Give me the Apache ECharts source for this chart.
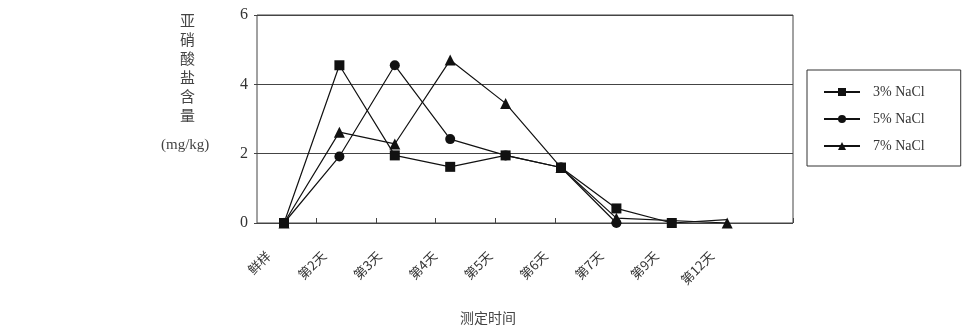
<!DOCTYPE html>
<html>
<head>
<meta charset="utf-8">
<script src="https://cdn.jsdelivr.net/npm/echarts@6/dist/echarts.min.js"></script>
<style>
html,body{margin:0;padding:0;background:#fff;}
#c{width:963px;height:329px;}
</style>
</head>
<body>
<div id="c"></div>
<script>
const categories = ['鲜样', '第2天', '第3天', '第4天', '第5天', '第6天', '第7天', '第9天', '第12天'];
const seriesNames = ['3% NaCl', '5% NaCl', '7% NaCl'];
const nacl3 = [0, 4.55, 1.95, 1.62, 1.95, 1.6, 0.42, 0, 0.1];
const nacl5 = [0, 1.92, 4.55, 2.42, 1.95, 1.6, 0, null, null];
const nacl7 = [0, 2.62, 2.28, 4.7, 3.45, 1.6, 0.14, null, 0];
const yTicks = [0, 2, 4, 6];
const yTitle = ['亚', '硝', '酸', '盐', '含', '量'];
const yUnit = '(mg/kg)';
const xTitle = '测定时间';

const chart = echarts.init(document.getElementById('c'), null, {renderer: 'canvas'});
const lineColor = '#111';
const gridColor = '#444';
const textColor = '#333';

function mk(name, data, symbol, size) {
  return {
    name: name,
    type: 'line',
    xAxisIndex: 1,
    yAxisIndex: 1,
    data: data.map((v, i) => (name === seriesNames[0] && i === data.length - 1) ? {value: v, symbol: 'none'} : v),
    symbol: symbol,
    symbolSize: size,
    showAllSymbol: true,
    connectNulls: true,
    color: lineColor,
    lineStyle: {color: lineColor, width: 1.2},
    itemStyle: {color: lineColor},
    animation: false
  };
}

const option = {
  backgroundColor: '#fff',
  animation: false,
  grid: [
    {left: 257, top: 15, width: 536, height: 208, show: true, borderColor: gridColor, borderWidth: 1, backgroundColor: 'transparent'},
    {left: 256.3, top: 15, width: 498.6, height: 208}
  ],
  xAxis: [
    {
      gridIndex: 0, type: 'category', data: categories, boundaryGap: true,
      axisLine: {show: false},
      axisTick: {show: true, inside: true, length: 5, lineStyle: {color: gridColor},
        interval: function (i) { return i >= 1 && i <= 6; }},
      axisLabel: {show: false},
      splitLine: {show: false}
    },
    {
      gridIndex: 1, type: 'category', data: categories, boundaryGap: true,
      axisLine: {show: false}, axisTick: {show: false},
      axisLabel: {interval: 0, rotate: 45, margin: 15, padding: [0, 22, 0, 0],
        fontSize: 13, fontFamily: 'Noto Sans CJK SC', color: textColor}
    }
  ],
  yAxis: [
    {
      gridIndex: 0, type: 'value', min: yTicks[0], max: yTicks[yTicks.length - 1], interval: 2,
      axisLine: {show: false},
      axisTick: {show: true, length: 3, lineStyle: {color: gridColor}},
      axisLabel: {fontSize: 16, fontFamily: 'Liberation Serif', color: textColor, margin: 9},
      splitLine: {show: true, lineStyle: {color: gridColor, width: 1}}
    },
    {gridIndex: 1, type: 'value', min: 0, max: 6, show: false}
  ],
  legend: {
    orient: 'vertical',
    left: 807, top: 70,
    padding: [15, 36, 13, 16],
    itemGap: 13,
    itemWidth: 36, itemHeight: 10,
    borderColor: '#333', borderWidth: 1,
    data: seriesNames,
    textStyle: {fontSize: 14, fontFamily: 'Liberation Serif', color: textColor, padding: [0, 0, 0, 8]}
  },
  graphic: [
    {
      type: 'text', left: 180, top: 11,
      style: {text: yTitle.join('\n'), font: '15px "Noto Sans CJK SC"', lineHeight: 19, fill: '#444', align: 'left'}
    },
    {
      type: 'text', left: 161, top: 138,
      style: {text: yUnit, font: '15px "Liberation Serif"', fill: '#444'}
    },
    {
      type: 'text', left: 460, top: 311,
      style: {text: xTitle, font: '14px "Noto Sans CJK SC"', fill: '#444'}
    }
  ],
  series: [
    mk(seriesNames[0], nacl3, 'rect', 10),
    mk(seriesNames[1], nacl5, 'circle', 10),
    mk(seriesNames[2], nacl7, 'triangle', 11)
  ]
};
chart.setOption(option);
</script>
</body>
</html>
